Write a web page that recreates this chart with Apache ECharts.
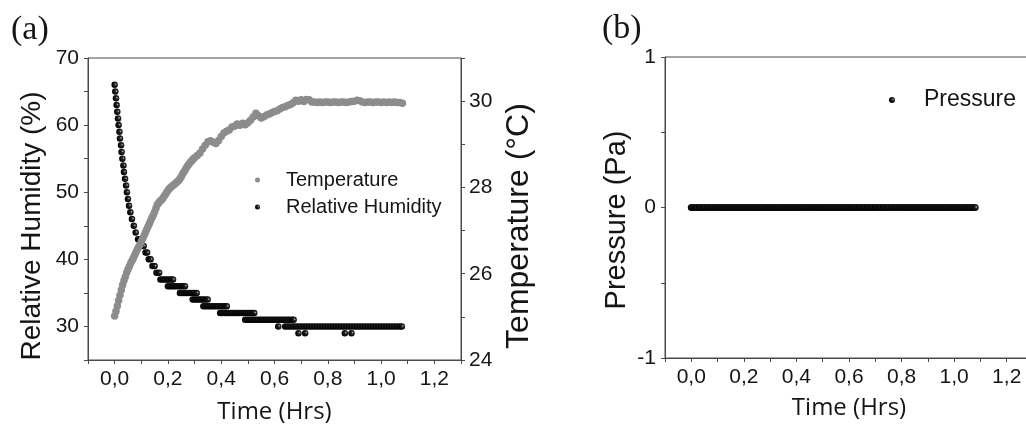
<!DOCTYPE html>
<html>
<head>
<meta charset="utf-8">
<script src="https://cdn.jsdelivr.net/npm/echarts@6/dist/echarts.min.js"></script>
<style>
html,body{margin:0;padding:0;background:#fff;}
#chart{width:1026px;height:425px;}
</style>
</head>
<body>
<div id="chart"></div>
<script>
// ---------- DATA ----------
// Temperature (°C): every 0.005 h up to 0.30 h, then every 0.01 h
const tempTime = [0.000,0.005,0.010,0.015,0.020,0.025,0.030,0.035,0.040,0.045,0.050,0.055,0.060,0.065,0.070,0.075,0.080,0.085,0.090,0.095,
0.100,0.105,0.110,0.115,0.120,0.125,0.130,0.135,0.140,0.145,0.150,0.155,0.160,0.165,0.170,0.175,0.180,0.185,0.190,0.195,
0.200,0.205,0.210,0.215,0.220,0.225,0.230,0.235,0.240,0.245,0.250,0.255,0.260,0.265,0.270,0.275,0.280,0.285,0.290,0.295,
0.30,0.31,0.32,0.33,0.34,0.35,0.36,0.37,0.38,0.39,
0.40,0.41,0.42,0.43,0.44,0.45,0.46,0.47,0.48,0.49,0.50,0.51,0.52,0.53,0.54,0.55,0.56,0.57,0.58,0.59,
0.60,0.61,0.62,0.63,0.64,0.65,0.66,0.67,0.68,0.69,0.70,0.71,0.72,0.73,0.74,0.75,0.76,0.77,0.78,0.79,
0.80,0.81,0.82,0.83,0.84,0.85,0.86,0.87,0.88,0.89,0.90,0.91,0.92,0.93,0.94,0.95,0.96,0.97,0.98,0.99,
1.00,1.01,1.02,1.03,1.04,1.05,1.06,1.07,1.08];
const temperature = [25.02,25.13,25.25,25.38,25.50,25.62,25.74,25.84,25.93,26.02,26.10,26.17,26.24,26.30,26.36,26.43,26.50,26.56,26.62,26.68,
26.74,26.81,26.88,26.95,27.02,27.09,27.16,27.23,27.30,27.36,27.43,27.52,27.60,27.64,27.68,27.71,27.74,27.79,27.83,27.88,
27.93,27.97,28.00,28.03,28.05,28.08,28.10,28.13,28.16,28.20,28.25,28.31,28.36,28.41,28.46,28.51,28.55,28.59,28.62,28.66,
28.69,28.74,28.80,28.89,28.98,29.06,29.08,29.05,29.02,29.09,
29.18,29.26,29.30,29.33,29.40,29.42,29.47,29.44,29.49,29.45,29.50,29.56,29.63,29.72,29.66,29.61,29.64,29.68,29.70,29.73,
29.76,29.78,29.82,29.85,29.87,29.90,29.92,29.96,30.02,30.00,30.03,29.99,30.04,30.03,29.98,29.98,29.97,29.98,29.97,29.98,
29.98,29.97,29.98,29.98,29.97,29.98,29.98,29.97,29.98,29.99,30.00,30.02,30.01,29.98,29.97,29.98,29.98,29.97,29.98,29.98,
29.97,29.98,29.97,29.98,29.97,29.98,29.97,29.97,29.95];

// Relative humidity (%): initial fast drop (individual samples)
const rhDropTime = [0.000,0.0025,0.005,0.0075,0.010,0.0126,0.015,0.018,0.020,0.024,0.026,0.029,0.033,0.035,0.039,0.043,0.046,0.050,0.054,0.059,0.065,0.072,0.079,
0.088,0.094,0.103,0.109,0.116,0.122,0.128,0.135,0.142,0.150,0.157,0.167];
const rhDropValue = [66,65,64,63,62,61,60,59,58,57,56,55,54,53,52,51,50,49,48,47,46,45,44,
43,43,42,42,41,41,40,40,39,39,38,38];

// Relative humidity (%): plateau levels and the times at which each was recorded
const rhLevels = [37,36,35,34,33,32,31,30,29];
const rhLevelTimes = [
  [0.172,0.180,0.188,0.196,0.204,0.212,0.219],
  [0.200,0.208,0.216,0.224,0.232,0.240,0.248,0.256,0.264],
  [0.245,0.253,0.261,0.269,0.277,0.285,0.293,0.300,0.308],
  [0.293,0.301,0.309,0.317,0.325,0.333,0.341,0.349],
  [0.333,0.341,0.349,0.357,0.365,0.373,0.381,0.389,0.397,0.405,0.413,0.421],
  [0.396,0.404,0.412,0.420,0.428,0.436,0.444,0.452,0.460,0.468,0.476,0.484,0.492,0.500,0.508,0.516,0.524],
  [0.490,0.498,0.506,0.514,0.522,0.530,0.538,0.546,0.554,0.562,0.570,0.578,0.586,0.594,0.602,0.610,0.618,0.626,0.634,0.642,0.650,0.658,0.666,0.672],
  [0.614,0.640,0.650,0.660,0.670,0.680,0.690,0.700,0.710,0.720,0.730,0.740,0.750,0.760,0.770,0.780,0.790,0.800,0.810,0.820,0.830,0.840,0.850,0.860,0.870,0.880,0.890,0.900,0.910,0.920,0.930,0.940,0.950,0.960,0.970,0.980,0.990,1.000,1.010,1.020,1.030,1.040,1.050,1.060,1.070,1.078],
  [0.690,0.715,0.864,0.889]
];

// Pressure (Pa), sampled every 0.01 h
const pressureTime = [0.00,0.01,0.02,0.03,0.04,0.05,0.06,0.07,0.08,0.09,0.10,0.11,0.12,0.13,0.14,0.15,0.16,0.17,0.18,0.19,
0.20,0.21,0.22,0.23,0.24,0.25,0.26,0.27,0.28,0.29,0.30,0.31,0.32,0.33,0.34,0.35,0.36,0.37,0.38,0.39,
0.40,0.41,0.42,0.43,0.44,0.45,0.46,0.47,0.48,0.49,0.50,0.51,0.52,0.53,0.54,0.55,0.56,0.57,0.58,0.59,
0.60,0.61,0.62,0.63,0.64,0.65,0.66,0.67,0.68,0.69,0.70,0.71,0.72,0.73,0.74,0.75,0.76,0.77,0.78,0.79,
0.80,0.81,0.82,0.83,0.84,0.85,0.86,0.87,0.88,0.89,0.90,0.91,0.92,0.93,0.94,0.95,0.96,0.97,0.98,0.99,
1.00,1.01,1.02,1.03,1.04,1.05,1.06,1.07,1.08];
const pressure = [0,0,0,0,0,0,0,0,0,0,0,0,0,0,0,0,0,0,0,0,
0,0,0,0,0,0,0,0,0,0,0,0,0,0,0,0,0,0,0,0,
0,0,0,0,0,0,0,0,0,0,0,0,0,0,0,0,0,0,0,0,
0,0,0,0,0,0,0,0,0,0,0,0,0,0,0,0,0,0,0,0,
0,0,0,0,0,0,0,0,0,0,0,0,0,0,0,0,0,0,0,0,
0,0,0,0,0,0,0,0,0];

const xTicks = ['0,0','0,2','0,4','0,6','0,8','1,0','1,2'];
const rhTicks = [30,40,50,60,70];
const tempTicks = [24,26,28,30];
const pressureTicks = [-1,0,1];

// ---------- BUILD ----------
const tempData = tempTime.map((t,i)=>[t,temperature[i]]);
const rhData = rhDropTime.map((t,i)=>[t,rhDropValue[i]]);
rhLevels.forEach((lv,k)=>rhLevelTimes[k].forEach(t=>rhData.push([t,lv])));
rhData.sort((a,b)=>a[0]-b[0]);
const pressureData = pressureTime.map((t,i)=>[t,pressure[i]]);

const SANS = "'Liberation Sans', Arial, sans-serif";
const AX = '#4a4a4a';
const TXT = '#151515';
const blackDot = {
  type:'radial', x:0.66, y:0.42, r:0.6,
  colorStops:[{offset:0,color:'#d0d0d0'},{offset:0.28,color:'#2a2a2a'},{offset:1,color:'#000'}]
};

function xLabel(v){
  const k = Math.round(v*10);
  if (k<0 || k>12 || k%2) return '';
  return xTicks[k/2];
}
function xAxisCfg(grid, gap){
  return {
    type:'value', gridIndex:grid, min:-0.1, max:1.3, interval:0.1,
    name:'Time (Hrs)', nameLocation:'middle', nameGap:gap,
    nameTextStyle:{fontFamily:"'Open Sans', sans-serif", fontSize:24, color:TXT},
    axisLine:{show:true, onZero:false, lineStyle:{color:AX, width:1}},
    axisTick:{show:true, inside:false, length:4, lineStyle:{color:AX}},
    axisLabel:{formatter:xLabel, fontFamily:SANS, fontSize:21, color:TXT, margin:9, showMinLabel:true, showMaxLabel:true},
    splitLine:{show:false}
  };
}

const option = {
  animation:false,
  backgroundColor:'#fff',
  title:[
    {text:'(a)', left:6, top:8, textStyle:{fontFamily:"'Liberation Serif', 'Times New Roman', serif", fontSize:34, fontWeight:'normal', color:TXT}},
    {text:'(b)', left:597, top:7, textStyle:{fontFamily:"'Liberation Serif', 'Times New Roman', serif", fontSize:34, fontWeight:'normal', color:TXT}}
  ],
  grid:[
    {left:88, right:565, top:58, bottom:65, show:true, borderColor:AX, borderWidth:1, backgroundColor:'transparent', containLabel:false, outerBoundsMode:'none'},
    {left:665, right:-7, top:57, bottom:67, show:true, borderColor:AX, borderWidth:1, backgroundColor:'transparent', containLabel:false, outerBoundsMode:'none'}
  ],
  legend:[
    {
      data:['Temperature','Relative Humidity'], orient:'vertical', left:250, top:164,
      itemWidth:47, itemHeight:5, itemGap:5, selectedMode:false,
      textStyle:{fontFamily:SANS, fontSize:20, color:TXT, lineHeight:22}
    },
    {
      data:['Pressure'], orient:'vertical', left:884, top:83,
      itemWidth:54, itemHeight:6, selectedMode:false,
      textStyle:{fontFamily:SANS, fontSize:23, color:TXT, lineHeight:24}
    }
  ],
  xAxis:[xAxisCfg(0, 40), xAxisCfg(1, 38)],
  yAxis:[
    {
      type:'value', gridIndex:0, position:'left', min:25, max:70, interval:5,
      name:'Relative Humidity (%)', nameLocation:'middle', nameRotate:90, nameGap:42,
      nameTextStyle:{fontFamily:SANS, fontSize:28, color:TXT, padding:[0,34,0,0]},
      axisLine:{show:true, onZero:false, lineStyle:{color:AX}},
      axisTick:{show:true, length:4, lineStyle:{color:AX}},
      axisLabel:{formatter:v=>rhTicks.includes(v)?String(v):'', fontFamily:SANS, fontSize:21, color:TXT, margin:9},
      splitLine:{show:false}
    },
    {
      type:'value', gridIndex:0, position:'right', min:24, max:31, interval:1,
      name:'Temperature (°C)', nameLocation:'middle', nameRotate:90, nameGap:42,
      nameTextStyle:{fontFamily:SANS, fontSize:32, color:TXT, padding:[0,34,0,0]},
      axisLine:{show:true, onZero:false, lineStyle:{color:AX}},
      axisTick:{show:true, length:4, lineStyle:{color:AX}},
      axisLabel:{formatter:v=>tempTicks.includes(v)?String(v):'', fontFamily:SANS, fontSize:21, color:TXT, margin:8},
      splitLine:{show:false}
    },
    {
      type:'value', gridIndex:1, position:'left', min:-1, max:1, interval:0.5,
      name:'Pressure (Pa)', nameLocation:'middle', nameRotate:90, nameGap:34,
      nameTextStyle:{fontFamily:SANS, fontSize:29, color:TXT, padding:[0,25,0,0]},
      axisLine:{show:true, onZero:false, lineStyle:{color:AX}},
      axisTick:{show:true, length:4, lineStyle:{color:AX}},
      axisLabel:{formatter:v=>pressureTicks.includes(v)?String(v):'', fontFamily:SANS, fontSize:21, color:TXT, margin:9},
      splitLine:{show:false}
    }
  ],
  series:[
    {
      name:'Relative Humidity', type:'scatter', xAxisIndex:0, yAxisIndex:0,
      data:rhData, symbol:'circle', symbolSize:6.5,
      itemStyle:{color:blackDot, opacity:1}, z:2
    },
    {
      name:'Temperature', type:'scatter', xAxisIndex:0, yAxisIndex:1,
      data:tempData, symbol:'circle', symbolSize:7.5,
      itemStyle:{color:'#8c8c8c', opacity:1}, z:3
    },
    {
      name:'Pressure', type:'scatter', xAxisIndex:1, yAxisIndex:2,
      data:pressureData, symbol:'circle', symbolSize:7,
      itemStyle:{color:blackDot, opacity:1}, z:2
    }
  ]
};

const chart = echarts.init(document.getElementById('chart'), null, {renderer:'canvas'});
chart.setOption(option);
</script>
</body>
</html>
